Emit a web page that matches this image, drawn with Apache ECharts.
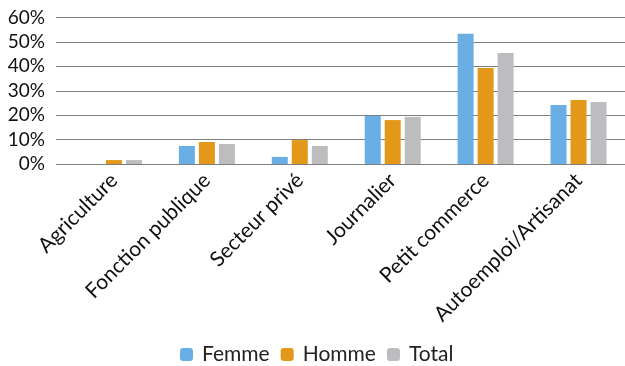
<!DOCTYPE html>
<html><head><meta charset="utf-8">
<script src="https://cdn.jsdelivr.net/npm/echarts@6/dist/echarts.min.js"></script>
<style>html,body{margin:0;padding:0;background:#fff}#c{width:625px;height:366px}</style>
</head><body><div id="c"></div>
<script>
const categories = ['Agriculture','Fonction publique','Secteur privé','Journalier','Petit commerce','Autoemploi/Artisanat'];
const femme = [0, 7.4, 2.9, 19.7, 53.3, 24.2];
const homme = [1.6, 9.0, 9.8, 18.0, 39.3, 26.2];
const total = [1.6, 8.2, 7.4, 19.3, 45.5, 25.4];
const yTicks = [0, 10, 20, 30, 40, 50, 60];

const FONT = 'Lato, "Open Sans", sans-serif';
const chart = echarts.init(document.getElementById('c'), null, {renderer:'canvas'});
const gTop = 17.5, gBottom = 202;
chart.setOption({
  animation: false,
  textStyle: {fontFamily: FONT},
  grid: [
    {left: 56, right: 0, top: gTop, bottom: gBottom},
    {left: 67.5, width: 558, top: gTop, bottom: gBottom}
  ],
  legend: {
    top: 344, left: 180, padding: 0, itemWidth: 13, itemHeight: 13, itemGap: 11,
    textStyle: {fontFamily: FONT, fontSize: 21, color: '#222', padding: [0, 0, 0, 4]},
    data: ['Femme','Homme','Total']
  },
  xAxis: [
    {type: 'category', gridIndex: 0, data: categories, show: false},
    {type: 'category', gridIndex: 1, data: categories,
     axisLine: {show: false}, axisTick: {show: false},
     axisLabel: {rotate: 45, margin: 13, fontSize: 21, color: '#111', fontFamily: FONT, interval: 0}}
  ],
  yAxis: [
    {type: 'value', gridIndex: 0, min: yTicks[0], max: yTicks[yTicks.length-1], interval: 10,
     axisLine: {show: false}, axisTick: {show: false},
     axisLabel: {formatter: '{value}%', fontSize: 19, color: '#111', margin: 11, fontFamily: FONT},
     splitLine: {lineStyle: {color: '#7f7f7f', width: 1.2}}},
    {type: 'value', gridIndex: 1, min: 0, max: 60, interval: 10, show: false}
  ],
  series: [
    {name: 'Femme', type: 'bar', xAxisIndex: 1, yAxisIndex: 1, data: femme, barWidth: 16, barGap: '25%', itemStyle: {color: '#69afe5'}},
    {name: 'Homme', type: 'bar', xAxisIndex: 1, yAxisIndex: 1, data: homme, barWidth: 16, barGap: '25%', itemStyle: {color: '#e3981a'}},
    {name: 'Total', type: 'bar', xAxisIndex: 1, yAxisIndex: 1, data: total, barWidth: 16, barGap: '25%', itemStyle: {color: '#bdbdbf'}}
  ]
});
</script></body></html>
